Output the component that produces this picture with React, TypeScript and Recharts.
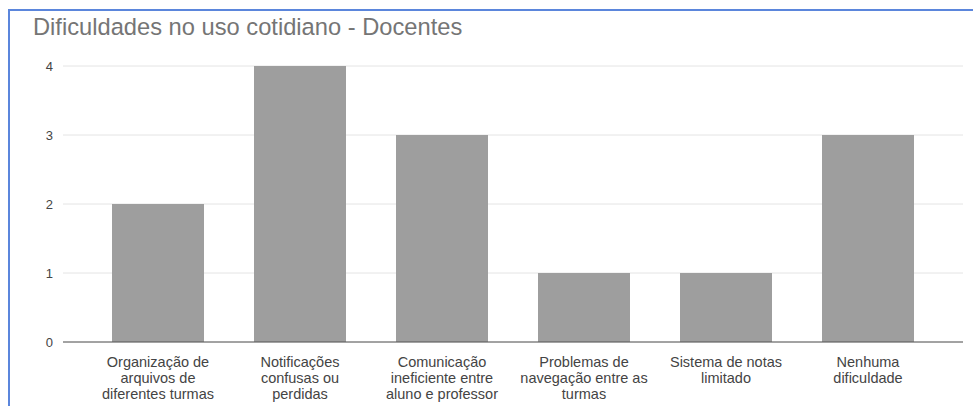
import React from "react";
import { BarChart, Bar, XAxis, YAxis, CartesianGrid } from "recharts";

const categories = [
  "Organização de arquivos de diferentes turmas",
  "Notificações confusas ou perdidas",
  "Comunicação ineficiente entre aluno e professor",
  "Problemas de navegação entre as turmas",
  "Sistema de notas limitado",
  "Nenhuma dificuldade",
];

// Wrapped lines for each category label
const categoryLines: string[][] = [
  ["Organização de", "arquivos de", "diferentes turmas"],
  ["Notificações", "confusas ou", "perdidas"],
  ["Comunicação", "ineficiente entre", "aluno e professor"],
  ["Problemas de", "navegação entre as", "turmas"],
  ["Sistema de notas", "limitado"],
  ["Nenhuma", "dificuldade"],
];

const counts = [2, 4, 3, 1, 1, 3];

const yTicks = [0, 1, 2, 3, 4];

const title = "Dificuldades no uso cotidiano - Docentes";

const data = categories.map((name, i) => ({ name, value: counts[i], idx: i }));

const FONT = "Arial, 'Liberation Sans', sans-serif";

const CategoryTick = (props: any) => {
  const { x, y, index } = props;
  const lines = categoryLines[index] || [];
  return (
    <text
      x={x}
      y={y}
      textAnchor="middle"
      fill="#444444"
      fontSize={14.5}
      fontFamily={FONT}
    >
      {lines.map((l, i) => (
        <tspan key={i} x={x} dy={i === 0 ? 16.5 : 16.4}>
          {l}
        </tspan>
      ))}
    </text>
  );
};

export default function App() {
  return (
    <div
      style={{
        position: "fixed",
        left: 0,
        top: 0,
        width: 973,
        height: 406,
        overflow: "hidden",
        background: "#ffffff",
      }}
    >
      <div
        style={{
          position: "absolute",
          left: 8,
          top: 9,
          width: 1100,
          height: 600,
          borderLeft: "2px solid #5b86dc",
          borderTop: "2px solid #5b86dc",
          boxSizing: "border-box",
        }}
      />
      <div
        style={{
          position: "absolute",
          left: 33,
          top: 13,
          fontFamily: FONT,
          fontSize: 23.7,
          color: "#757575",
          whiteSpace: "nowrap",
          lineHeight: "28px",
        }}
      >
        {title}
      </div>
      <div style={{ position: "absolute", left: 0, top: 0 }}>
        <BarChart
          width={973}
          height={406}
          data={data}
          margin={{ top: 66, right: 10, left: 0, bottom: 0 }}
          barSize={92}
        >
          <CartesianGrid
            vertical={false}
            stroke="#e4e4e4"
            strokeWidth={1}
          />
          <XAxis
            dataKey="name"
            height={64}
            interval={0}
            padding={{ left: 24, right: 24 }}
            tickLine={false}
            axisLine={{ stroke: "#555555", strokeWidth: 1 }}
            tick={<CategoryTick />}
          />
          <YAxis
            width={63}
            domain={[0, 4]}
            ticks={yTicks}
            tickLine={false}
            axisLine={false}
            tickSize={8}
            tickMargin={2}
            tick={{ fill: "#444444", fontSize: 13, fontFamily: FONT }}
          />
          <Bar dataKey="value" fill="#9e9e9e" isAnimationActive={false} />
        </BarChart>
      </div>
    </div>
  );
}
